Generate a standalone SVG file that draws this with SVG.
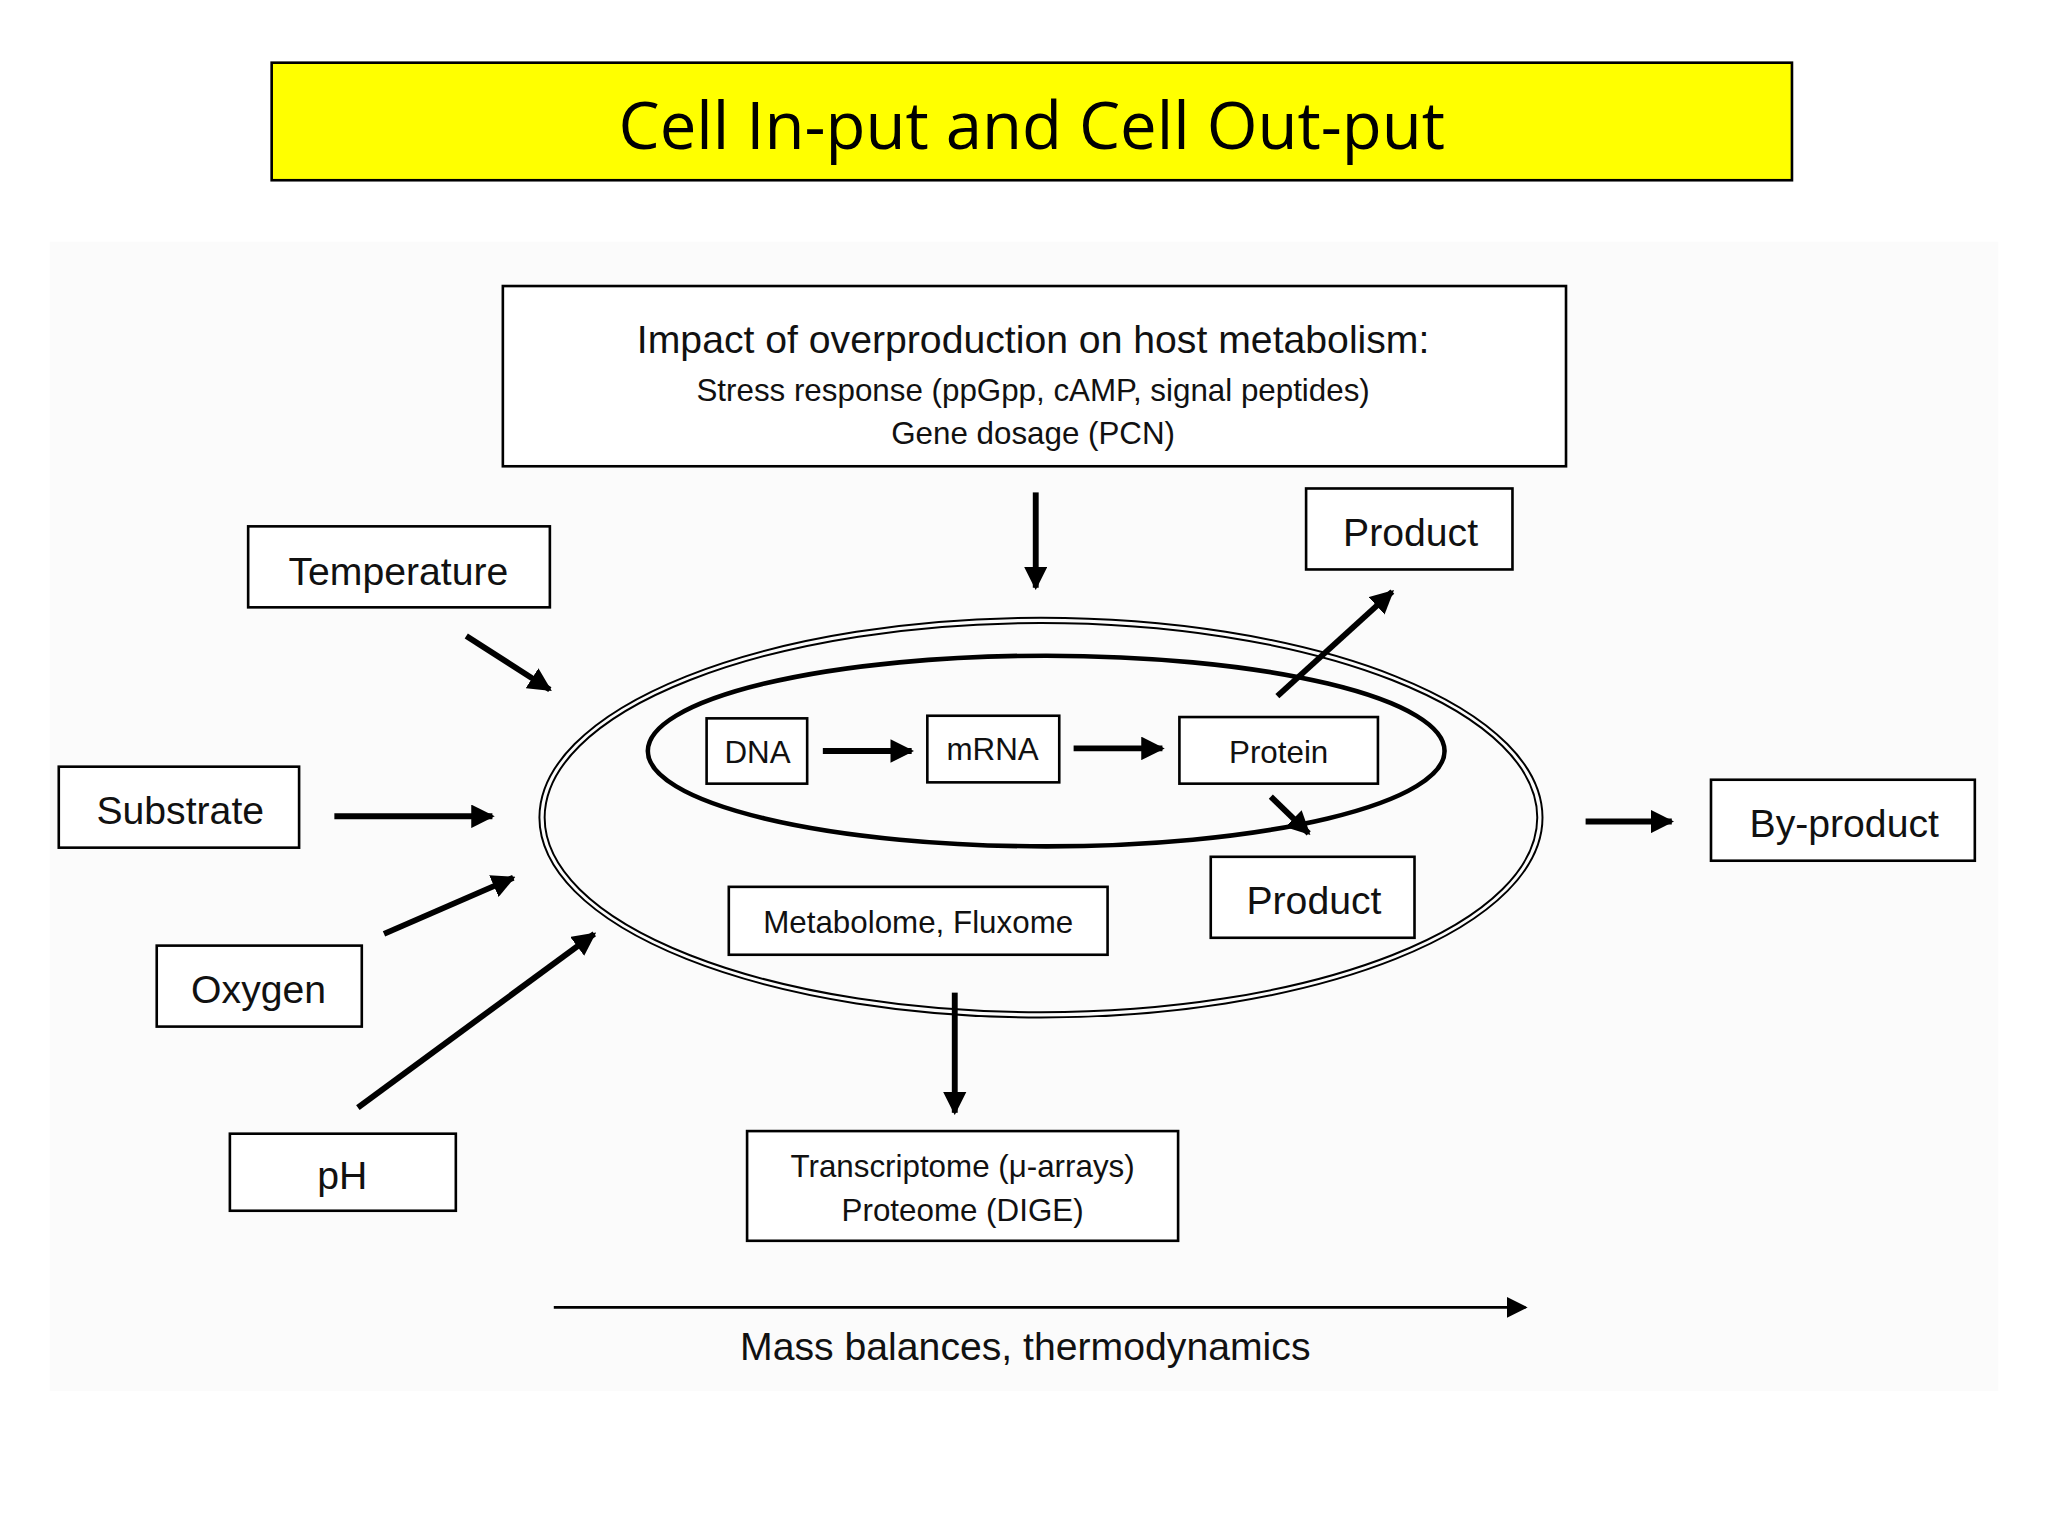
<svg xmlns="http://www.w3.org/2000/svg" width="2048" height="1536" viewBox="0 0 2048 1536">
<defs>
<marker id="ah" viewBox="0 0 10 10" refX="9" refY="5" markerWidth="4" markerHeight="4" orient="auto" markerUnits="strokeWidth"><path d="M0,0 L10,5 L0,10 z" fill="#000"/></marker>
<marker id="ahs" viewBox="0 0 10 10" refX="9" refY="5" markerWidth="8" markerHeight="8" orient="auto" markerUnits="strokeWidth"><path d="M0,0 L10,5 L0,10 z" fill="#000"/></marker>
</defs>
<style>
.b{fill:#fff;stroke:#000;stroke-width:2}
.t{font-family:"Liberation Sans",Arial,sans-serif;fill:#111;text-anchor:middle}
.a{stroke:#000;stroke-width:4.5;fill:none;marker-end:url(#ah)}
</style>
<rect width="2048" height="1536" fill="#fff"/>
<g transform="scale(1.3061)">
<rect x="38" y="185" width="1492" height="880" fill="#fbfbfb"/>
<g id="title"><rect x="208" y="48" width="1164" height="90" fill="#ffff00" stroke="#000" stroke-width="2"/><text x="790" y="114" font-family="Open Sans, Lato, sans-serif" font-size="50" text-anchor="middle">Cell In-put and Cell Out-put</text></g>
<g id="cell"><ellipse cx="797" cy="626" rx="384" ry="153" fill="none" stroke="#000" stroke-width="1.5"/><ellipse cx="797" cy="626" rx="380" ry="149" fill="none" stroke="#000" stroke-width="1.5"/></g>
<g id="nucleus"><ellipse cx="801" cy="575" rx="305" ry="73" fill="none" stroke="#000" stroke-width="3.5"/></g>
<g id="impact"><rect class="b" x="385" y="219" width="814" height="138"/>
<text class="t" x="791" y="270" font-size="30">Impact of overproduction on host metabolism:</text>
<text class="t" x="791" y="307" font-size="24">Stress response (ppGpp, cAMP, signal peptides)</text>
<text class="t" x="791" y="340" font-size="24">Gene dosage (PCN)</text></g>
<g id="product1"><rect class="b" x="1000" y="374" width="158" height="62"/><text class="t" x="1080" y="418" font-size="30">Product</text></g>
<g id="temperature"><rect class="b" x="190" y="403" width="231" height="62"/><text class="t" x="305" y="448" font-size="30">Temperature</text></g>
<g id="dna"><rect class="b" x="541" y="550" width="77" height="50"/><text class="t" x="580" y="584" font-size="24">DNA</text></g>
<g id="mrna"><rect class="b" x="710" y="548" width="101" height="51"/><text class="t" x="760" y="582" font-size="24">mRNA</text></g>
<g id="protein"><rect class="b" x="903" y="549" width="152" height="51"/><text class="t" x="979" y="584" font-size="24">Protein</text></g>
<g id="substrate"><rect class="b" x="45" y="587" width="184" height="62"/><text class="t" x="138" y="631" font-size="30">Substrate</text></g>
<g id="product2"><rect class="b" x="927" y="656" width="156" height="62"/><text class="t" x="1006" y="700" font-size="30">Product</text></g>
<g id="metabolome"><rect class="b" x="558" y="679" width="290" height="52"/><text class="t" x="703" y="714" font-size="24">Metabolome, Fluxome</text></g>
<g id="byproduct"><rect class="b" x="1310" y="597" width="202" height="62"/><text class="t" x="1412" y="641" font-size="30">By-product</text></g>
<g id="oxygen"><rect class="b" x="120" y="724" width="157" height="62"/><text class="t" x="198" y="768" font-size="30">Oxygen</text></g>
<g id="ph"><rect class="b" x="176" y="868" width="173" height="59"/><text class="t" x="262" y="910" font-size="30">pH</text></g>
<g id="omics"><rect class="b" x="572" y="866" width="330" height="84"/><text class="t" x="737" y="901" font-size="24">Transcriptome (μ-arrays)</text><text class="t" x="737" y="935" font-size="24">Proteome (DIGE)</text></g>
<g id="mass"><text class="t" x="785" y="1041" font-size="30">Mass balances, thermodynamics</text></g>
<g id="connectors">
<line class="a" x1="793" y1="377" x2="793" y2="450"/>
<line class="a" x1="357" y1="487" x2="421" y2="528"/>
<line class="a" x1="630" y1="575" x2="698" y2="575"/>
<line class="a" x1="822" y1="573" x2="890" y2="573"/>
<line class="a" x1="978" y1="533" x2="1066" y2="453"/>
<line class="a" x1="973" y1="610" x2="1002" y2="638"/>
<line class="a" x1="256" y1="625" x2="377" y2="625"/>
<line class="a" x1="1214" y1="629" x2="1280" y2="629"/>
<line class="a" x1="294" y1="715" x2="393" y2="672"/>
<line class="a" x1="274" y1="848" x2="455" y2="715"/>
<line class="a" x1="731" y1="760" x2="731" y2="852"/>
<line x1="424" y1="1001" x2="1168" y2="1001" stroke="#000" stroke-width="2" marker-end="url(#ahs)"/>
</g>
</g>
</svg>
